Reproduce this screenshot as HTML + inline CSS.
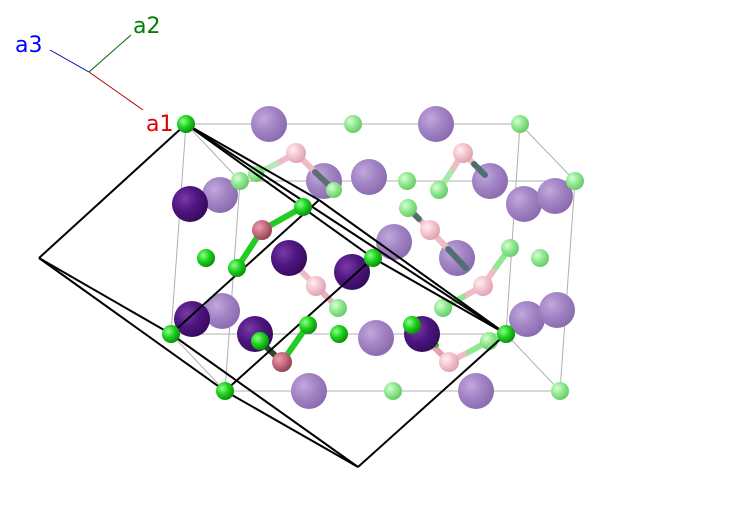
<!DOCTYPE html>
<html><head><meta charset="utf-8"><style>
html,body{margin:0;padding:0;background:#fff;}
svg{display:block;}
text{font-family:"DejaVu Sans","Liberation Sans",sans-serif;font-size:22px;}
</style></head><body>
<svg width="747" height="517" viewBox="0 0 747 517" xmlns="http://www.w3.org/2000/svg">
<defs>
<radialGradient id="gG" cx="0.35" cy="0.35" r="0.7"><stop offset="0" stop-color="#8dff8d"/><stop offset="0.5" stop-color="#1ed21e"/><stop offset="1" stop-color="#0a8a0a"/></radialGradient>
<radialGradient id="gLG" cx="0.35" cy="0.35" r="0.7"><stop offset="0" stop-color="#d6ffd6"/><stop offset="0.5" stop-color="#90e890"/><stop offset="1" stop-color="#66c866"/></radialGradient>
<radialGradient id="gP" cx="0.35" cy="0.35" r="0.7"><stop offset="0" stop-color="#7a3aa8"/><stop offset="0.5" stop-color="#4e1680"/><stop offset="1" stop-color="#360a5c"/></radialGradient>
<radialGradient id="gLP" cx="0.35" cy="0.35" r="0.7"><stop offset="0" stop-color="#c2a8dc"/><stop offset="0.5" stop-color="#a284c4"/><stop offset="1" stop-color="#8a6aae"/></radialGradient>
<radialGradient id="gK" cx="0.35" cy="0.35" r="0.7"><stop offset="0" stop-color="#e8a0b0"/><stop offset="0.5" stop-color="#c86a80"/><stop offset="1" stop-color="#8e4050"/></radialGradient>
<radialGradient id="gLK" cx="0.35" cy="0.35" r="0.7"><stop offset="0" stop-color="#fff0f4"/><stop offset="0.5" stop-color="#f4c4ce"/><stop offset="1" stop-color="#dca0ae"/></radialGradient>
</defs>
<line x1="89" y1="72" x2="143" y2="110" stroke="#b00000" stroke-width="1"/>
<line x1="89" y1="72" x2="131" y2="35" stroke="#006000" stroke-width="1"/>
<line x1="89" y1="72" x2="50" y2="50" stroke="#0000b0" stroke-width="1"/>
<text x="146" y="131" fill="#e00000">a1</text>
<text x="133" y="33" fill="#008000">a2</text>
<text x="15" y="52" fill="#0000ff">a3</text>
<g stroke="#b0b0b0" stroke-width="1" fill="none">
<polygon points="186,124 520,124 575,181 240,181"/>
<polygon points="171,334 506,334 560,391 225,391"/>
<line x1="186" y1="124" x2="171" y2="334"/><line x1="520" y1="124" x2="506" y2="334"/>
<line x1="575" y1="181" x2="560" y2="391"/><line x1="240" y1="181" x2="225" y2="391"/>
</g>
<g fill="url(#gLP)">
<circle cx="269" cy="124" r="18"/><circle cx="436" cy="124" r="18"/><circle cx="220" cy="195" r="18"/><circle cx="324" cy="181" r="18"/><circle cx="369" cy="177" r="18"/><circle cx="490" cy="181" r="18"/><circle cx="524" cy="204" r="18"/><circle cx="555" cy="196" r="18"/><circle cx="394" cy="242" r="18"/><circle cx="457" cy="258" r="18"/><circle cx="222" cy="311" r="18"/><circle cx="527" cy="319" r="18"/><circle cx="557" cy="310" r="18"/><circle cx="376" cy="338" r="18"/><circle cx="309" cy="391" r="18"/><circle cx="476" cy="391" r="18"/>
</g>
<g stroke-width="6" stroke-linecap="round">
<line x1="296" y1="153" x2="276" y2="164" stroke="#eebcc6"/><line x1="276" y1="164" x2="256" y2="174" stroke="#b8e8b8"/>
<line x1="296" y1="153" x2="315" y2="172" stroke="#eebcc6"/><line x1="315" y1="172" x2="334" y2="190" stroke="#5a7070"/>
<line x1="463" y1="153" x2="451" y2="172" stroke="#eebcc6"/><line x1="451" y1="172" x2="439" y2="190" stroke="#a8e8a8"/>
<line x1="463" y1="153" x2="474" y2="164" stroke="#eebcc6"/><line x1="474" y1="164" x2="485" y2="175" stroke="#507070"/>
<line x1="430" y1="230" x2="419" y2="219" stroke="#eebcc6"/><line x1="419" y1="219" x2="408" y2="208" stroke="#507070"/>
<line x1="430" y1="230" x2="448" y2="249" stroke="#eebcc6"/><line x1="448" y1="249" x2="466" y2="268" stroke="#507070"/>
<line x1="316" y1="286" x2="298" y2="268" stroke="#eebcc6"/><line x1="298" y1="268" x2="280" y2="250" stroke="#507070"/>
<line x1="316" y1="286" x2="338" y2="308" stroke="#e8b0bc"/>
<line x1="483" y1="286" x2="496" y2="267" stroke="#eebcc6"/><line x1="496" y1="267" x2="510" y2="248" stroke="#90e890"/>
<line x1="483" y1="286" x2="463" y2="297" stroke="#eebcc6"/><line x1="463" y1="297" x2="443" y2="308" stroke="#90e890"/>
<line x1="449" y1="362" x2="412" y2="325" stroke="#e8a0b0"/>
<line x1="449" y1="362" x2="469" y2="352" stroke="#eebcc6"/><line x1="469" y1="352" x2="489" y2="341" stroke="#90e890"/>
</g>
<g fill="url(#gLG)">
<circle cx="353" cy="124" r="9"/><circle cx="520" cy="124" r="9"/><circle cx="240" cy="181" r="9"/><circle cx="256" cy="174" r="8"/><circle cx="407" cy="181" r="9"/><circle cx="439" cy="190" r="9"/><circle cx="575" cy="181" r="9"/><circle cx="408" cy="208" r="9"/><circle cx="334" cy="190" r="8"/><circle cx="510" cy="248" r="9"/><circle cx="540" cy="258" r="9"/><circle cx="338" cy="308" r="9"/><circle cx="443" cy="308" r="9"/><circle cx="489" cy="341" r="9"/><circle cx="393" cy="391" r="9"/><circle cx="560" cy="391" r="9"/>
</g>
<g fill="url(#gLK)">
<circle cx="296" cy="153" r="10"/><circle cx="463" cy="153" r="10"/><circle cx="430" cy="230" r="10"/><circle cx="316" cy="286" r="10"/><circle cx="483" cy="286" r="10"/><circle cx="449" cy="362" r="10"/>
</g>
<g stroke-width="6" stroke-linecap="round">
<line x1="262" y1="230" x2="303" y2="207" stroke="#22cc22"/>
<line x1="262" y1="230" x2="237" y2="268" stroke="#22cc22"/>
<line x1="282" y1="362" x2="260" y2="341" stroke="#2a4a2a"/>
<line x1="282" y1="362" x2="308" y2="325" stroke="#22cc22"/>
<line x1="412" y1="325" x2="436" y2="345" stroke="#22cc22"/>
</g>
<g fill="url(#gP)">
<circle cx="190" cy="204" r="18"/><circle cx="192" cy="319" r="18"/><circle cx="289" cy="258" r="18"/><circle cx="352" cy="272" r="18"/><circle cx="255" cy="334" r="18"/><circle cx="422" cy="334" r="18"/>
</g>
<g fill="url(#gK)"><circle cx="262" cy="230" r="10"/><circle cx="282" cy="362" r="10"/></g>
<g stroke="#000" stroke-width="2" fill="none" stroke-linejoin="round">
<line x1="186" y1="124" x2="39" y2="258"/><line x1="186" y1="124" x2="373" y2="258"/><line x1="186" y1="124" x2="319" y2="200"/>
<line x1="39" y1="258" x2="225" y2="391"/><line x1="39" y1="258" x2="171" y2="334"/>
<line x1="373" y1="258" x2="225" y2="391"/><line x1="373" y1="258" x2="506" y2="334"/>
<line x1="319" y1="200" x2="171" y2="334"/><line x1="319" y1="200" x2="506" y2="334"/>
<line x1="225" y1="391" x2="358" y2="467"/><line x1="171" y1="334" x2="358" y2="467"/><line x1="506" y1="334" x2="358" y2="467"/>
<line x1="186" y1="124" x2="506" y2="334"/>
</g>
<g fill="url(#gG)">
<circle cx="186" cy="124" r="9"/><circle cx="303" cy="207" r="9"/><circle cx="237" cy="268" r="9"/><circle cx="206" cy="258" r="9"/><circle cx="373" cy="258" r="9"/><circle cx="171" cy="334" r="9"/><circle cx="308" cy="325" r="9"/><circle cx="260" cy="341" r="9"/><circle cx="339" cy="334" r="9"/><circle cx="412" cy="325" r="9"/><circle cx="506" cy="334" r="9"/><circle cx="225" cy="391" r="9"/>
</g>
</svg>
</body></html>
